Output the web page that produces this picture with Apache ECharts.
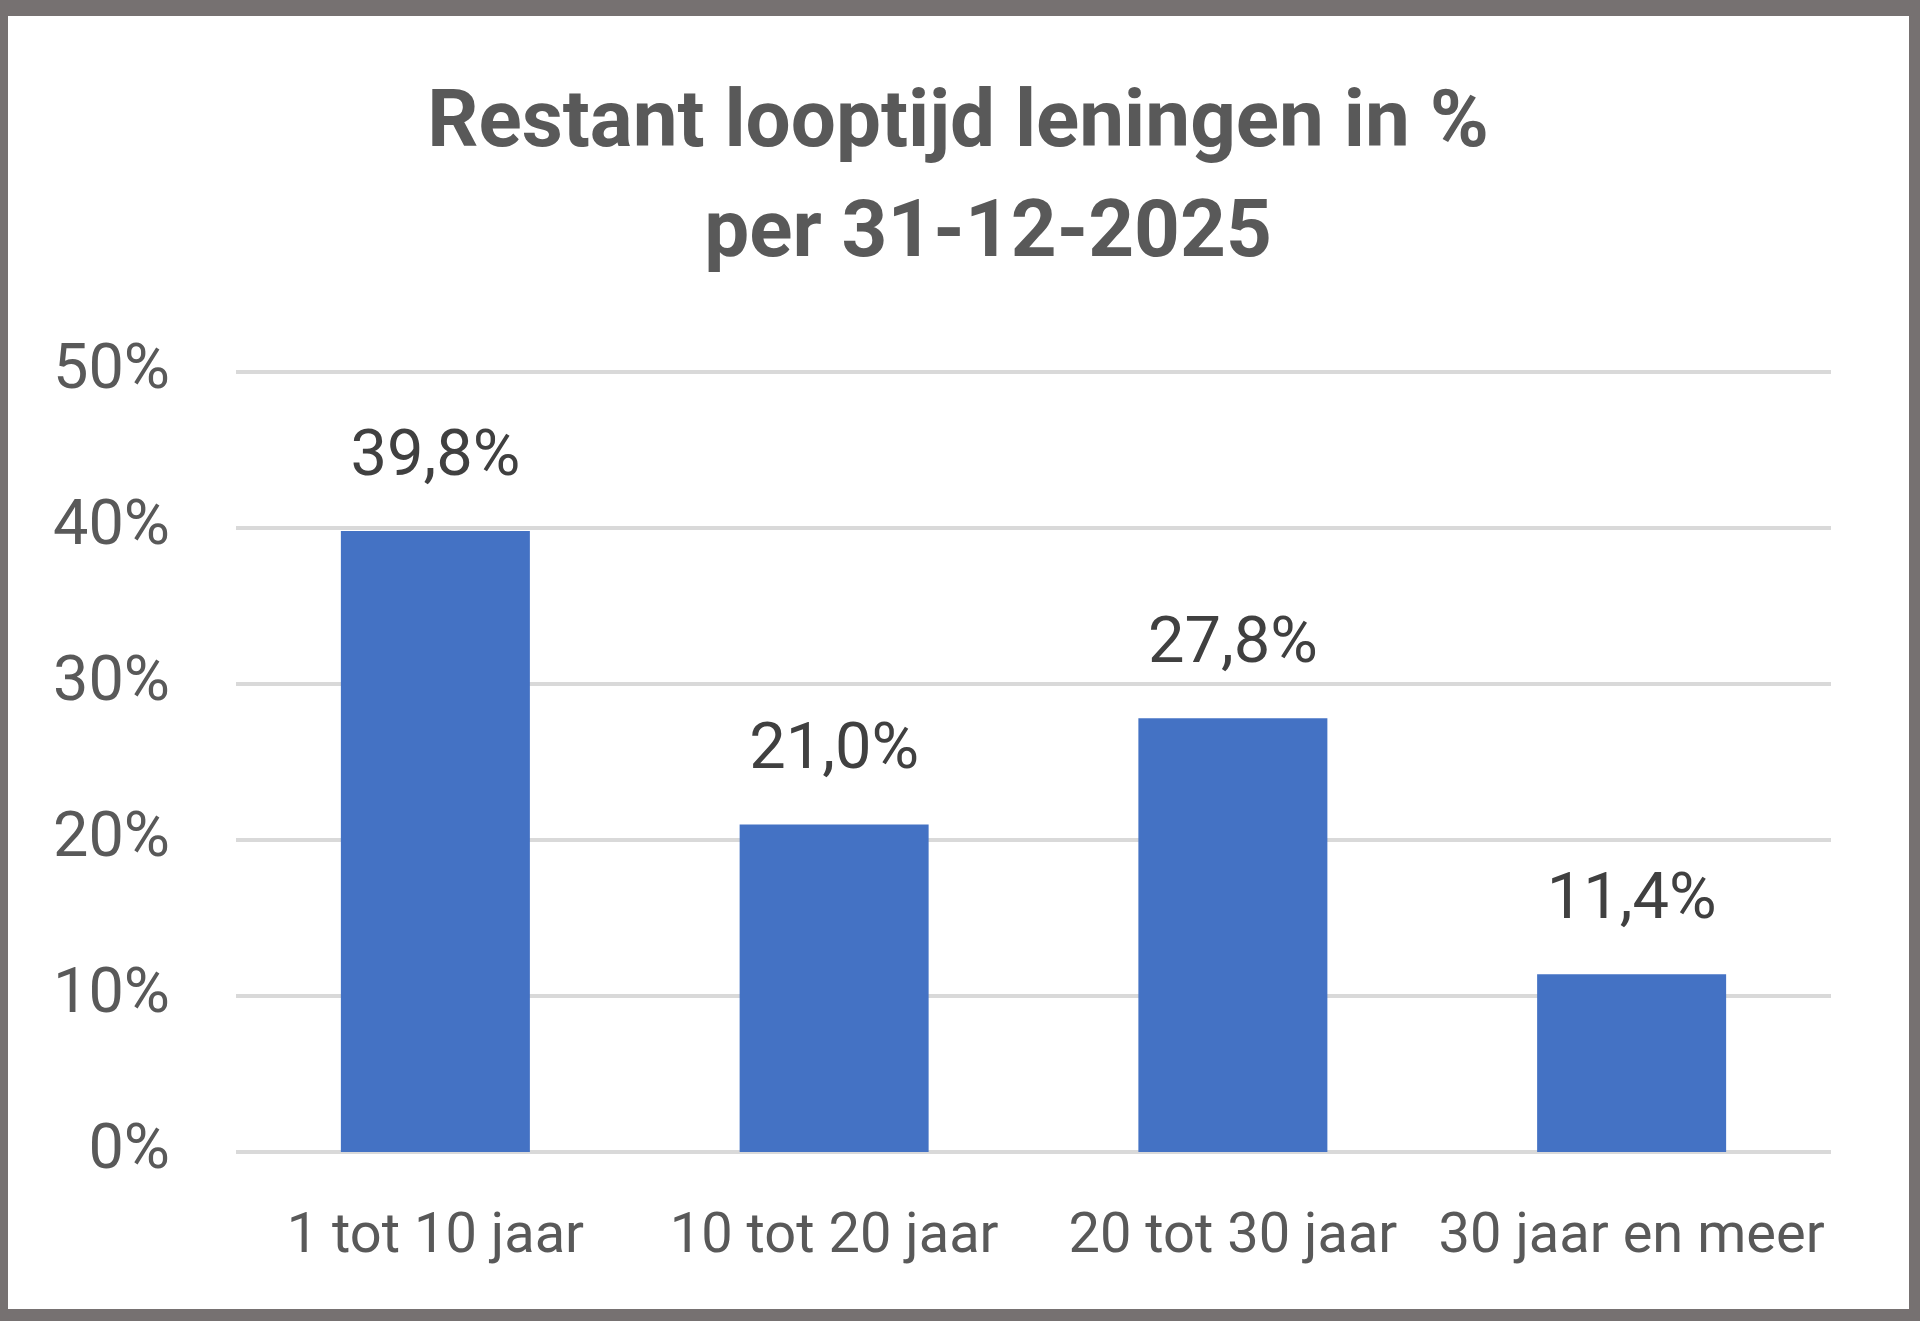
<!DOCTYPE html>
<html>
<head>
<meta charset="utf-8">
<script src="https://cdn.jsdelivr.net/npm/echarts@6/dist/echarts.min.js"></script>
<style>
  html, body { margin: 0; padding: 0; width: 1920px; height: 1321px; background: #767171; overflow: hidden; }
  #chart { position: absolute; left: 8px; top: 16px; width: 1901px; height: 1293px; background: #ffffff; }
</style>
</head>
<body>
<div id="chart"></div>
<script>
const titleLine1 = 'Restant looptijd leningen in %';
const titleLine2 = 'per 31-12-2025';
const categories = ['1 tot 10 jaar', '10 tot 20 jaar', '20 tot 30 jaar', '30 jaar en meer'];
const values = [39.8, 21.0, 27.8, 11.4];
const yTicks = [0, 10, 20, 30, 40, 50];

const chart = echarts.init(document.getElementById('chart'), null, { renderer: 'canvas' });
const option = {
  backgroundColor: '#ffffff',
  animation: false,
  title: [
    {
      text: titleLine1, left: 945, textAlign: 'center', top: 65,
      textStyle: { fontFamily: 'Roboto', fontWeight: 'bold', fontSize: 80, lineHeight: 80, color: '#595959' }
    },
    {
      text: titleLine2, left: 975, textAlign: 'center', top: 175,
      textStyle: { fontFamily: 'Roboto', fontWeight: 'bold', fontSize: 80, lineHeight: 80, color: '#595959' }
    }
  ],
  grid: { left: 228, right: 78, top: 356, bottom: 157, containLabel: false },
  xAxis: {
    type: 'category',
    data: categories,
    axisLine: { show: false },
    axisTick: { show: false },
    axisLabel: { interval: 0, margin: 58, fontFamily: 'Roboto', fontSize: 56, lineHeight: 56, color: '#595959' }
  },
  yAxis: {
    type: 'value',
    min: yTicks[0],
    max: yTicks[yTicks.length - 1],
    interval: yTicks[1] - yTicks[0],
    axisLine: { show: false },
    axisTick: { show: false },
    splitLine: { lineStyle: { color: '#d9d9d9', width: 4 } },
    axisLabel: { margin: 66, fontFamily: 'Roboto', fontSize: 63, color: '#595959', formatter: '{value}%' }
  },
  series: [{
    type: 'bar',
    data: values,
    barWidth: 189,
    itemStyle: { color: '#4472C4' },
    label: {
      show: true, position: 'top', distance: 40,
      fontFamily: 'Roboto', fontSize: 65, lineHeight: 65, color: '#404040',
      formatter: p => p.value.toFixed(1).replace('.', ',') + '%'
    }
  }]
};
chart.setOption(option);
</script>
</body>
</html>
